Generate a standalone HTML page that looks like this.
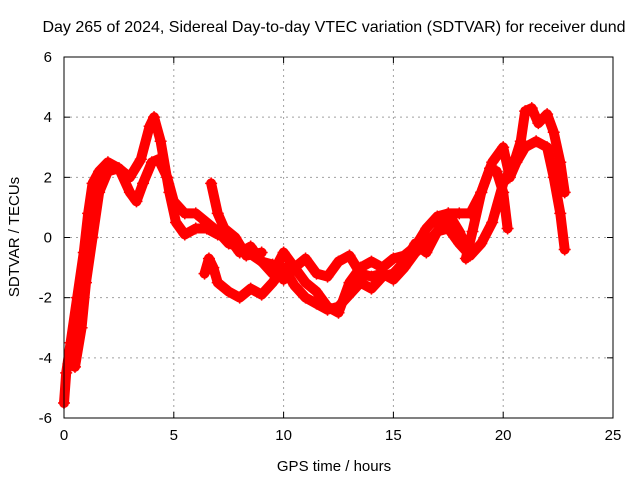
<!DOCTYPE html>
<html><head><meta charset="utf-8"><style>
body{margin:0;background:#fff;}
svg text{font-family:"Liberation Sans",sans-serif;font-size:15px;fill:#000;}
</style></head><body>
<svg id="chart" width="640" height="480">
<text x="334" y="32" text-anchor="middle" style="font-size:16px">Day 265 of 2024, Sidereal Day-to-day VTEC variation (SDTVAR) for receiver dund</text>
<text x="334" y="471" text-anchor="middle">GPS time / hours</text>
<text transform="translate(19,237) rotate(-90)" text-anchor="middle">SDTVAR / TECUs</text>
<g id="grid"></g><g id="marks"></g>
<rect x="64" y="57" width="549" height="361" fill="none" stroke="#000" stroke-width="1"/>
</svg>
<script>
const xTicks=[0,5,10,15,20,25];
const yTicks=[-6,-4,-2,0,2,4,6];
const seriesA=[[0,-5.5],[0.1,-4.5],[0.3,-3.5],[0.6,-2],[0.9,-0.5],[1.1,0.8],[1.3,1.8],[1.6,2.2],[2,2.5],[2.5,2.3],[3,2.0],[3.5,2.6],[3.9,3.7],[4.1,4.0],[4.4,3.2],[4.8,1.5],[5.1,0.5],[5.5,0.1],[6,0.3],[6.5,0.3],[7,0.1],[7.5,0],[8,-0.5],[8.5,-0.3],[9,-0.8],[9.5,-1.2],[10,-0.5],[10.5,-1.0],[11,-1.5],[11.5,-1.8],[12,-2.3],[12.5,-2.5],[13,-1.5],[13.5,-1.0],[14,-0.8],[14.5,-1.0],[15,-0.7],[15.5,-0.6],[16,-0.3],[16.5,0.3],[17,0.7],[17.5,0.8],[18,0.2],[18.5,-0.6]];
const seriesB=[[0.2,-4.2],[0.5,-4.3],[0.8,-3],[1,-1.5],[1.3,0],[1.6,1.5],[2,2.2],[2.5,2.3],[3,1.5],[3.3,1.2],[3.6,1.8],[4,2.5],[4.3,2.6],[4.7,2.0],[5,1.2],[5.5,0.8],[6,0.8],[6.5,0.5],[7,0.2],[7.5,-0.2],[8,-0.3],[9,-0.8],[9.5,-0.9],[10,-1.4],[10.5,-1.0],[11,-0.7],[11.5,-1.2],[12,-1.3],[12.5,-0.8],[13,-0.6],[13.5,-1.2],[14,-1.3],[14.5,-1.2],[15,-1.4],[15.5,-1.0],[16,-0.5],[16.5,-0.2],[17,0.2],[17.5,0.3],[18,-0.2],[18.5,-0.6],[19,-0.2],[19.5,0.5],[20,1.8],[20.5,2.5],[20.8,3.2],[21,4.2],[21.3,4.3],[21.6,3.8],[22,4.1],[22.3,3.5],[22.6,2.5],[22.8,1.5]];
const seriesC=[[6.4,-1.2],[6.6,-0.7],[6.8,-1.0],[7.0,-1.5],[7.5,-1.8],[8,-2.0],[8.5,-1.7],[9,-1.9],[9.5,-1.5],[10,-1.0],[10.5,-1.6],[11,-2.0],[11.5,-2.2],[12,-2.4],[12.5,-2.3],[13,-1.9],[13.5,-1.5],[14,-1.7],[14.5,-1.3],[15,-1.2],[15.5,-0.8],[16,-0.2],[16.5,-0.5],[17,0.2],[17.5,0.8],[18,0.8],[18.5,0.8],[19,1.5],[19.5,2.5],[20,3.0],[20.3,2.0],[20.6,2.5],[21,3.0],[21.5,3.2],[22,3.0],[22.3,2.0],[22.6,0.8],[22.8,-0.4]];
const seriesD=[[6.7,1.8],[7,0.8],[7.3,0.3],[7.8,0],[8.3,-0.6],[9,-0.5]];
const seriesE=[[18.3,-0.7],[18.6,0.2],[19,1.5],[19.4,2.3],[19.7,2.2],[20,1.5],[20.2,0.3]];
const allSeries=[seriesA,seriesB,seriesC,seriesD,seriesE];
const NS="http://www.w3.org/2000/svg";
const X0=64,X1=613,Y0=418,Y1=57;
function sx(h){return X0+(h-0)/(25-0)*(X1-X0);}
function sy(v){return Y0-(v+6)/12*(Y0-Y1);}
const grid=document.getElementById('grid'),marks=document.getElementById('marks');
function mk(tag,attrs,parent){const e=document.createElementNS(NS,tag);for(const k in attrs)e.setAttribute(k,attrs[k]);parent.appendChild(e);return e;}
xTicks.forEach(t=>{const x=sx(t);
 if(t>0&&t<25){const g=mk('line',{x1:x,x2:x,y1:Y1,y2:Y0,stroke:'#a0a0a0','stroke-dasharray':'2,4'},grid);
 
 }
 mk('line',{x1:x,x2:x,y1:Y0,y2:Y0-6,stroke:'#000'},grid);mk('line',{x1:x,x2:x,y1:Y1,y2:Y1+6,stroke:'#000'},grid);
 const tx=mk('text',{x:x,y:Y0+22,'text-anchor':'middle'},grid);tx.textContent=t;
 
 });
yTicks.forEach(t=>{const y=sy(t);
 if(t>-6&&t<6){const g=mk('line',{x1:X0,x2:X1,y1:y,y2:y,stroke:'#a0a0a0','stroke-dasharray':'2,4'},grid);
 
 }
 mk('line',{x1:X0,x2:X0+6,y1:y,y2:y,stroke:'#000'},grid);mk('line',{x1:X1,x2:X1-6,y1:y,y2:y,stroke:'#000'},grid);
 const tx=mk('text',{x:X0-12,y:y+5,'text-anchor':'end'},grid);tx.textContent=t;
 
 });
allSeries.forEach((s,i)=>{
 const pl=mk('polyline',{points:s.map(p=>sx(p[0])+','+sy(p[1])).join(' '),fill:'none',stroke:'#ff0000','stroke-width':10,'stroke-linejoin':'round','stroke-linecap':'round'},marks);
 
 
 s.forEach(p=>{const x=sx(p[0]),y=sy(p[1]);
  const m=mk('path',{d:`M${x-6},${y}H${x+6}M${x},${y-6}V${y+6}`,stroke:'#ff0000','stroke-width':1.5},marks);
  
  });
});
</script>
</body></html>
